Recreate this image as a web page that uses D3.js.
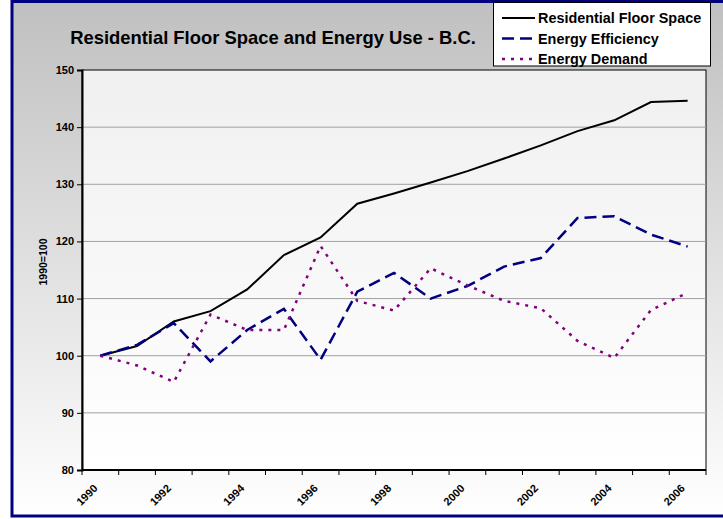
<!DOCTYPE html>
<html>
<head>
<meta charset="utf-8">
<script src="https://cdn.jsdelivr.net/npm/d3@7"></script>
<style>
  body { margin: 0; background: #fff; }
  svg { display: block; font-family: Arial, "Liberation Sans", sans-serif; }
</style>
</head>
<body>
<div id="chart"></div>
<script>
// data
var years = ["1990","1991","1992","1993","1994","1995","1996","1997","1998","1999","2000","2001","2002","2003","2004","2005","2006"];
var floorSpace = [100, 101.7, 106, 107.8, 111.6, 117.6, 120.7, 126.6, 128.4, 130.3, 132.3, 134.5, 136.8, 139.3, 141.2, 144.4, 144.6];
var efficiency = [100, 101.9, 105.7, 99.0, 104.5, 108.2, 99.3, 111.2, 114.5, 110.0, 112.2, 115.6, 117.1, 124.1, 124.4, 121.2, 119.1];
var demand = [100, 98.3, 95.4, 107.2, 104.5, 104.5, 119.2, 109.6, 107.9, 115.3, 112.3, 109.6, 108.3, 102.6, 99.6, 108.0, 111.0];
var yTicks = [80, 90, 100, 110, 120, 130, 140, 150];
var seriesNames = ["Residential Floor Space", "Energy Efficiency", "Energy Demand"];

var width = 723, height = 519;
var plot = {left: 82, top: 70, right: 706, bottom: 470};

var svg = d3.select("#chart").append("svg")
    .attr("width", width)
    .attr("height", height);

var defs = svg.append("defs");
var g1 = defs.append("linearGradient").attr("id", "bgGrad")
    .attr("x1", 0).attr("y1", 0).attr("x2", 0).attr("y2", 1);
g1.append("stop").attr("offset", "0%").attr("stop-color", "#c0c0c0");
g1.append("stop").attr("offset", "100%").attr("stop-color", "#ffffff");
var g2 = defs.append("linearGradient").attr("id", "plotGrad")
    .attr("x1", 0).attr("y1", 0).attr("x2", 0).attr("y2", 1);
g2.append("stop").attr("offset", "0%").attr("stop-color", "#f0f0f0");
g2.append("stop").attr("offset", "100%").attr("stop-color", "#ffffff");

// outer chart area
svg.append("rect")
    .attr("x", 12).attr("y", 1.5)
    .attr("width", 730).attr("height", 514.5)
    .attr("fill", "url(#bgGrad)")
    .attr("stroke", "#000080")
    .attr("stroke-width", 3);

// plot area
svg.append("rect")
    .attr("x", plot.left).attr("y", plot.top)
    .attr("width", plot.right - plot.left).attr("height", plot.bottom - plot.top)
    .attr("fill", "url(#plotGrad)")
    .attr("stroke", "#000")
    .attr("stroke-width", 1);

var x = d3.scaleBand().domain(years).range([plot.left, plot.right]);
var y = d3.scaleLinear().domain([80, 150]).range([plot.bottom, plot.top]);

// grid
svg.append("g").selectAll("line")
    .data(yTicks.filter(function(d){ return d > 80 && d < 150; }))
    .enter().append("line")
    .attr("x1", plot.left).attr("x2", plot.right)
    .attr("y1", function(d){ return y(d); })
    .attr("y2", function(d){ return y(d); })
    .attr("stroke", "#a0a0a0")
    .attr("stroke-width", 1);

// y axis
var yAxis = svg.append("g")
    .attr("transform", "translate(" + plot.left + ",0)")
    .call(d3.axisLeft(y).tickValues(yTicks).tickSize(5).tickPadding(3));
yAxis.select(".domain").attr("stroke", "#000").attr("stroke-width", 2);
yAxis.selectAll("text").attr("font-size", "11px").attr("font-weight", "bold").attr("fill", "#000")
    .attr("font-family", "Arial, 'Liberation Sans', sans-serif");

// x axis: ticks at category boundaries
var xAxis = svg.append("g")
    .attr("transform", "translate(0," + plot.bottom + ")");
xAxis.append("line")
    .attr("x1", plot.left).attr("x2", plot.right)
    .attr("stroke", "#000").attr("stroke-width", 2);
var bounds = years.map(function(d){ return x(d); }).concat([plot.right]);
xAxis.selectAll("line.tick")
    .data(bounds)
    .enter().append("line")
    .attr("class", "tick")
    .attr("x1", function(d){ return d; }).attr("x2", function(d){ return d; })
    .attr("y1", 0).attr("y2", 5)
    .attr("stroke", "#000").attr("stroke-width", 1);
xAxis.selectAll("text")
    .data(years.filter(function(d, i){ return i % 2 == 0; }))
    .enter().append("text")
    .attr("transform", function(d){
        return "translate(" + (x(d) + x.bandwidth() / 2 - 2) + ",19)rotate(-45)";
    })
    .attr("text-anchor", "end")
    .attr("font-size", "11px")
    .attr("font-weight", "bold")
    .text(function(d){ return d; });

// y title
svg.append("text")
    .attr("transform", "translate(47,262)rotate(-90)")
    .attr("text-anchor", "middle")
    .attr("font-size", "10.5px")
    .attr("font-weight", "bold")
    .text("1990=100");

// title
svg.append("text")
    .attr("x", 273).attr("y", 44)
    .attr("text-anchor", "middle")
    .attr("font-size", "18.4px")
    .attr("font-weight", "bold")
    .text("Residential Floor Space and Energy Use - B.C.");

// lines
var line = d3.line()
    .x(function(d, i){ return x(years[i]) + x.bandwidth() / 2; })
    .y(function(d){ return y(d); });

var styles = [
    {data: floorSpace, color: "#000000", dash: null, w: 2},
    {data: efficiency, color: "#000080", dash: "12,6", w: 2.5},
    {data: demand, color: "#800080", dash: "3,6", w: 2.5}
];

svg.append("g").selectAll("path")
    .data(styles)
    .enter().append("path")
    .attr("d", function(d){ return line(d.data); })
    .attr("fill", "none")
    .attr("stroke", function(d){ return d.color; })
    .attr("stroke-width", function(d){ return d.w; })
    .attr("stroke-dasharray", function(d){ return d.dash; });

// legend
var legend = svg.append("g");
legend.append("rect")
    .attr("x", 493.5).attr("y", 2.5)
    .attr("width", 217).attr("height", 63.5)
    .attr("fill", "#fff")
    .attr("stroke", "#000")
    .attr("stroke-width", 1);
var items = legend.selectAll("g.item")
    .data(styles)
    .enter().append("g")
    .attr("class", "item")
    .attr("transform", function(d, i){ return "translate(0," + (18 + i * 20.5) + ")"; });
items.append("line")
    .attr("x1", 502).attr("x2", 535)
    .attr("stroke", function(d){ return d.color; })
    .attr("stroke-width", function(d){ return d.w; })
    .attr("stroke-dasharray", function(d){ return d.dash; });
items.append("text")
    .attr("x", 538).attr("y", 5)
    .attr("font-size", "14.4px")
    .attr("font-weight", "bold")
    .text(function(d, i){ return seriesNames[i]; });
</script>
</body>
</html>
